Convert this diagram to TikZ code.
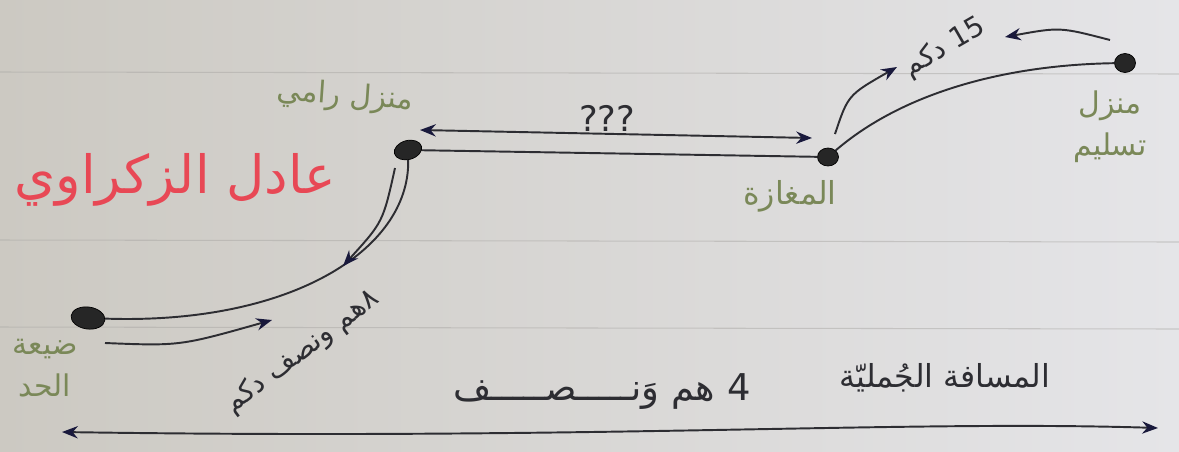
\documentclass[tikz,border=0pt]{standalone}
\usepackage{fontspec}
\setmainfont{DejaVu Sans}
\newfontfamily\arabicfont[Script=Arabic]{DejaVu Sans}
\TeXXeTstate=1
\usetikzlibrary{arrows.meta, shapes.geometric, positioning}
\definecolor{paperL}{RGB}{204,201,194}
\definecolor{paperR}{RGB}{229,229,232}
\definecolor{rule}{RGB}{170,168,165}
\definecolor{ink}{RGB}{45,45,50}
\definecolor{tipink}{RGB}{25,25,60}
\definecolor{pencil}{RGB}{122,136,88}
\definecolor{redpen}{RGB}{232,72,85}

\begin{document}
\begin{tikzpicture}[x=0.02cm, y=-0.02cm,
    dot/.style={draw=black, fill=black!85, ellipse, inner sep=0pt},
    place/.style={text=pencil, align=center, font=\arabicfont\fontsize{17}{24}\selectfont},
    dist/.style={text=ink, font=\arabicfont\fontsize{16}{20}\selectfont},
    road/.style={draw=ink, line width=1.1pt},
    arr/.style={draw=ink, line width=1.1pt, -{Stealth[length=9pt,width=7pt,color=tipink]}},
    darr/.style={draw=ink, line width=1.1pt, {Stealth[length=9pt,width=7pt,color=tipink]}-{Stealth[length=9pt,width=7pt,color=tipink]}}]
    \useasboundingbox (0,0) rectangle (1179,451);
    \fill[left color=paperL, right color=paperR] (0,0) rectangle (1179,451);
    \foreach \y in {72,240,327}
        \draw[rule, opacity=0.5, line width=0.6pt] (0,\y) -- (1179,\y+2);
    \node[dot, minimum width=0.68cm, minimum height=0.44cm, rotate=-8] (dayaa) at (88,318) {};
    \node[dot, minimum width=0.56cm, minimum height=0.38cm, rotate=15] (rami) at (408,150) {};
    \node[dot, minimum width=0.42cm, minimum height=0.36cm] (maghaza) at (828,157) {};
    \node[dot, minimum width=0.42cm, minimum height=0.38cm] (taslim) at (1125,63) {};
    \node[text=redpen, font=\arabicfont\fontsize{30}{36}\selectfont] (name) at (175,180) {\beginR عادل الزكراوي\endR};
    \node[place, rotate=-4] (lrami) at (345,97) {\beginR منزل رامي\endR};
    \node[place, font=\arabicfont\fontsize{18}{24}\selectfont] (lmaghaza) at (790,196) {\beginR المغازة\endR};
    \node[place] (ltaslim) at (1110,127) {\beginR منزل\endR\\\beginR تسليم\endR};
    \node[place] (ldayaa) at (45,368) {\beginR ضيعة\endR\\\beginR الحد\endR};
    \node[text=ink, font=\fontsize{20}{24}\selectfont] (qq) at (607,118) {???};
    \node[dist, rotate=30] (l15) at (945,48) {\beginR\beginL 15\endL{} دكم\endR};
    \node[dist, rotate=37] (l8) at (302,352) {\beginR ٨هم ونصف دكم\endR};
    \node[dist, font=\arabicfont\fontsize{21}{24}\selectfont] (l4) at (602,392) {\beginR\beginL 4\endL{} هم وَنـــــصـــــف\endR};
    \node[dist, font=\arabicfont\fontsize{18}{22}\selectfont] (ltotal) at (945,378) {\beginR المسافة الجُمليّة\endR};
    \coordinate (a1) at (105,343); \coordinate (a2) at (272,320);
    \coordinate (b1) at (395,168); \coordinate (b2) at (343,266);
    \coordinate (q1) at (420,130); \coordinate (q2) at (812,138);
    \coordinate (c1) at (835,134); \coordinate (c2) at (897,67);
    \coordinate (d1) at (1110,40); \coordinate (d2) at (1005,37);
    \coordinate (e1) at (62,432); \coordinate (e2) at (1158,428);
    \draw[road] (dayaa) .. controls (290,325) and (410,250) .. (rami);
    \draw[road] (rami) -- (maghaza);
    \draw[road] (maghaza) .. controls (900,95) and (1000,65) .. (taslim);
    \draw[arr] (a1) .. controls (180,346) .. (a2);
    \draw[arr] (b1) .. controls (383,222) .. (b2);
    \draw[darr] (q1) -- (q2);
    \draw[arr] (c1) .. controls (848,95) .. (c2);
    \draw[arr] (d1) .. controls (1060,27) .. (d2);
    \draw[darr] (e1) .. controls (600,440) and (900,420) .. (e2);
\end{tikzpicture}
\end{document}
